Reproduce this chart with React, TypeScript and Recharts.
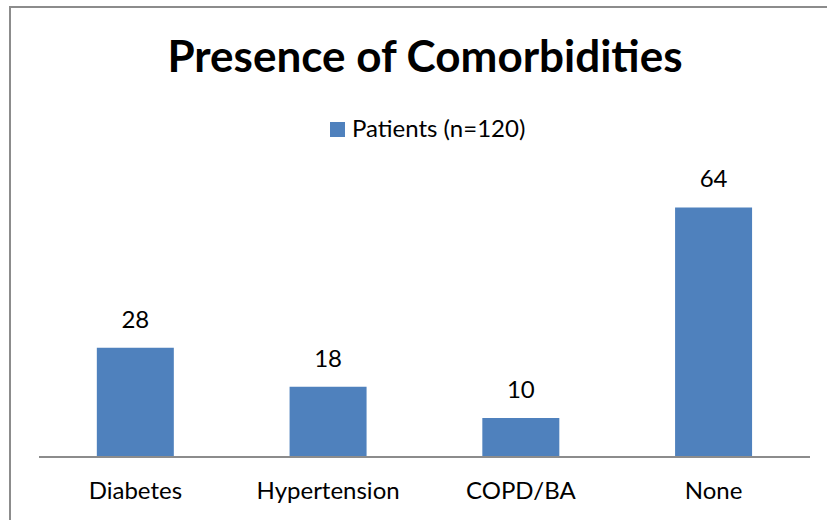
import React from 'react';
import { BarChart, Bar, XAxis, YAxis, LabelList } from 'recharts';

const categories = ['Diabetes', 'Hypertension', 'COPD/BA', 'None'];
const patients = [28, 18, 10, 64];
const seriesName = 'Patients (n=120)';
const chartTitle = 'Presence of Comorbidities';

const FONT = 'Lato, "Open Sans", sans-serif';
const BAR_COLOR = '#4F81BD';

export default function App() {
  const data = categories.map((category, i) => ({ category, patients: patients[i] }));

  return (
    <div style={{ position: 'absolute', left: 0, top: 0, width: 827, height: 520, overflow: 'hidden', background: '#fff', fontFamily: FONT }}>
      {/* chart area frame, runs off the right and bottom edges */}
      <div style={{ position: 'absolute', left: 9, top: 6, width: 900, height: 600, border: '2px solid #8c8c8c' }} />
      <div style={{ position: 'absolute', left: 0, width: 850, top: 33, textAlign: 'center', fontSize: 44, fontWeight: 700, color: '#000', lineHeight: '44px', whiteSpace: 'nowrap' }}>
        {chartTitle}
      </div>
      {/* legend */}
      <div style={{ position: 'absolute', left: 330, top: 122, width: 15, height: 15, background: BAR_COLOR }} />
      <div style={{ position: 'absolute', left: 352, top: 116, fontSize: 24, lineHeight: '24px', color: '#000', whiteSpace: 'nowrap' }}>
        {seriesName}
      </div>
      <div style={{ position: 'absolute', left: 0, top: 0 }}>
        <BarChart width={827} height={520} data={data} margin={{ top: 184, right: 17, left: 39, bottom: 13 }} barCategoryGap="30%">
          <YAxis hide domain={[0, 70]} />
          <XAxis
            dataKey="category"
            height={50}
            tickLine={false}
            axisLine={{ stroke: '#8c8c8c', strokeWidth: 2 }}
            tick={{ fill: '#000', fontSize: 24, fontFamily: FONT }}
            tickMargin={19}
            interval={0}
          />
          <Bar dataKey="patients" fill={BAR_COLOR} isAnimationActive={false}>
            <LabelList dataKey="patients" position="top" offset={20} fill="#000" fontSize={24} fontFamily={FONT} />
          </Bar>
        </BarChart>
      </div>
    </div>
  );
}
